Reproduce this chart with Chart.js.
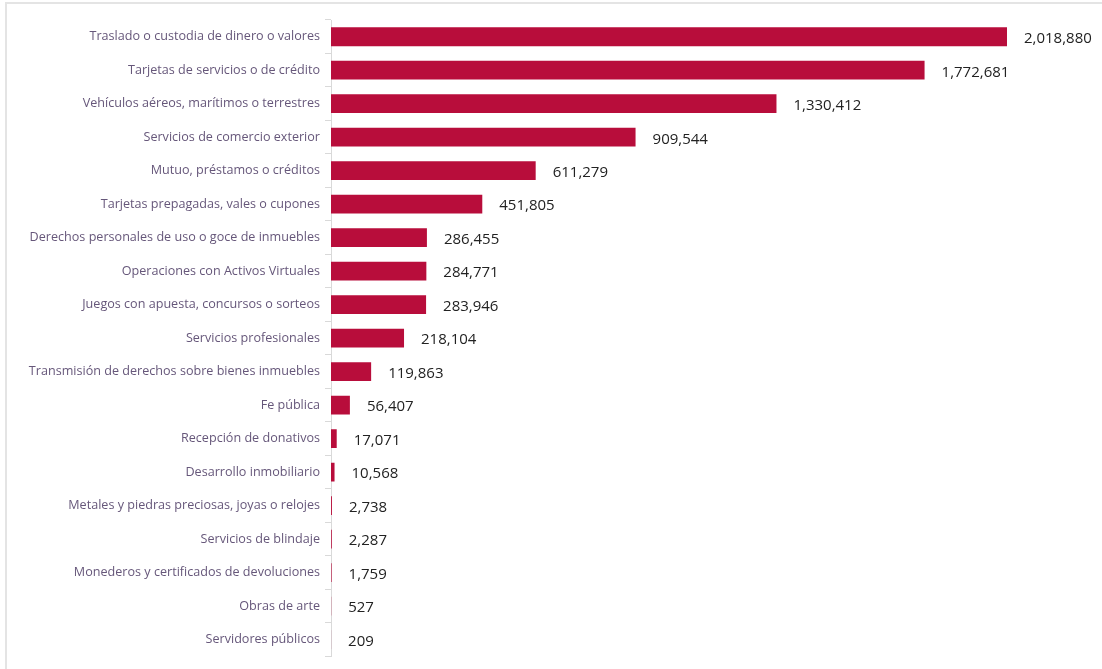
<!DOCTYPE html>
<html>
<head>
<meta charset="utf-8">
<script src="https://cdn.jsdelivr.net/npm/chart.js@4/dist/chart.umd.min.js"></script>
<style>
  html, body { margin: 0; padding: 0; background: #fff; }
  #wrap { position: relative; width: 1102px; height: 669px; }
  #frame { position: absolute; left: 5px; top: 2px; right: 0; bottom: 0;
           border-top: 2px solid #e4e4e4; border-left: 2px solid #e4e4e4; pointer-events: none; }
</style>
</head>
<body>
<div id="wrap">
  <canvas id="my-chart" width="1102" height="669"></canvas>
  <div id="frame"></div>
</div>
<script>
// categories and values
var categories = [
  'Traslado o custodia de dinero o valores',
  'Tarjetas de servicios o de crédito',
  'Vehículos aéreos, marítimos o terrestres',
  'Servicios de comercio exterior',
  'Mutuo, préstamos o créditos',
  'Tarjetas prepagadas, vales o cupones',
  'Derechos personales de uso o goce de inmuebles',
  'Operaciones con Activos Virtuales',
  'Juegos con apuesta, concursos o sorteos',
  'Servicios profesionales',
  'Transmisión de derechos sobre bienes inmuebles',
  'Fe pública',
  'Recepción de donativos',
  'Desarrollo inmobiliario',
  'Metales y piedras preciosas, joyas o relojes',
  'Servicios de blindaje',
  'Monederos y certificados de devoluciones',
  'Obras de arte',
  'Servidores públicos'
];
var values = [2018880, 1772681, 1330412, 909544, 611279, 451805, 286455, 284771, 283946,
              218104, 119863, 56407, 17071, 10568, 2738, 2287, 1759, 527, 209];

var barColor = '#b80d3b';

// value labels to the right of each bar
var valueLabels = {
  id: 'valueLabels',
  afterDatasetsDraw: function(chart) {
    var ctx = chart.ctx;
    var meta = chart.getDatasetMeta(0);
    ctx.save();
    ctx.font = '15px "Open Sans"';
    ctx.fillStyle = '#222';
    ctx.textBaseline = 'middle';
    ctx.textAlign = 'left';
    meta.data.forEach(function(bar, i) {
      ctx.fillText(values[i].toLocaleString('en-US'), bar.x + 17, bar.y + 2);
    });
    ctx.restore();
  }
};

var ctx = document.getElementById('my-chart').getContext('2d');
var chart = new Chart(ctx, {
  type: 'bar',
  data: {
    labels: categories,
    datasets: [{
      data: values,
      backgroundColor: barColor,
      barPercentage: 0.56,
      categoryPercentage: 1
    }]
  },
  options: {
    indexAxis: 'y',
    responsive: false,
    animation: false,
    layout: { padding: { top: 20, bottom: 11, right: 95, left: 0 } },
    plugins: { legend: { display: false }, tooltip: { enabled: false } },
    scales: {
      x: { display: false, min: 0, max: 2018880 },
      y: {
        afterFit: function(scale) { scale.width = 331; },
        border: { display: true, color: '#d9d9d9', width: 1 },
        grid: { drawOnChartArea: false, drawTicks: true, tickLength: 6, color: '#d9d9d9', offset: true },
        ticks: { color: '#66577a', padding: 5, font: { family: 'Open Sans', size: 12.6 } }
      }
    }
  },
  plugins: [valueLabels]
});
</script>
</body>
</html>
